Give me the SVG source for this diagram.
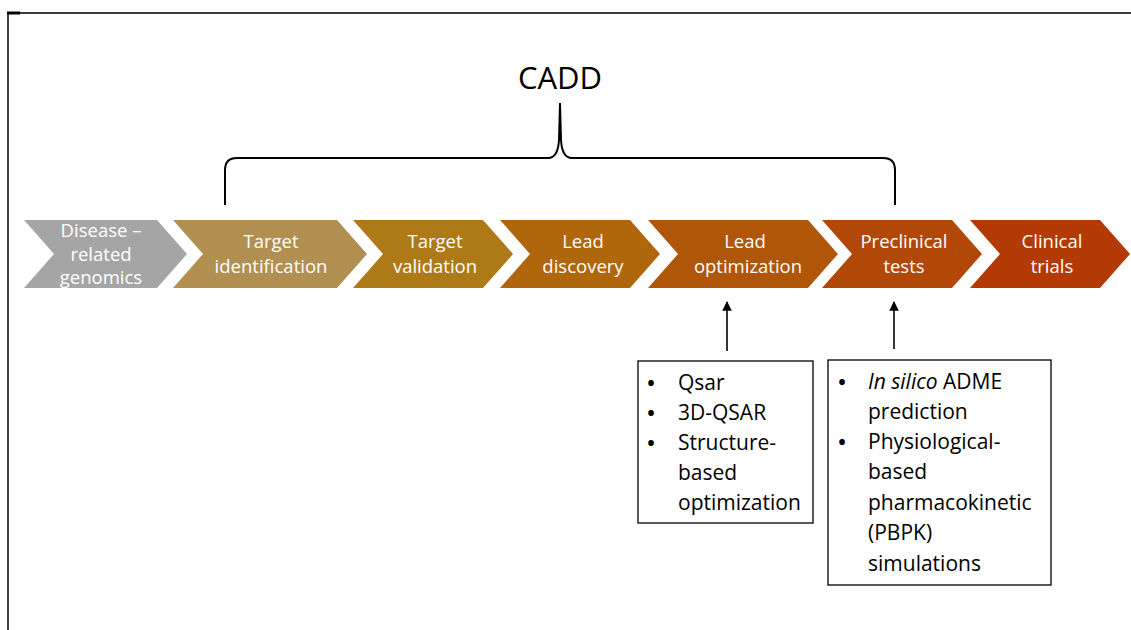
<svg xmlns="http://www.w3.org/2000/svg" width="1131" height="630" viewBox="0 0 1131 630">
  <defs>
    <style>
      .frame { stroke: #000; stroke-width: 1.5; fill: none; }
      .chev-text { font-family: "Open Sans", "Liberation Sans", sans-serif; font-size: 18.5px; fill: #fff; text-anchor: middle; }
      .title { font-family: "Open Sans", "Liberation Sans", sans-serif; font-size: 31px; fill: #000; text-anchor: middle; }
      .brace { stroke: #000; stroke-width: 2; fill: none; }
      .box { stroke: #000; stroke-width: 1.3; fill: #fff; }
      .box-text { font-family: "Open Sans", "Liberation Sans", sans-serif; font-size: 21px; fill: #000; }
      .bullet { font-family: "Open Sans", "Liberation Sans", sans-serif; font-size: 20px; font-weight: bold; fill: #000; text-anchor: middle; }
      .arrow { stroke: #000; stroke-width: 1.6; fill: none; marker-end: url(#head); }
    </style>
    <marker id="head" viewBox="0 0 10 10" refX="9" refY="5" markerWidth="6" markerHeight="6" orient="auto" markerUnits="strokeWidth">
      <path d="M0,0 L10,5 L0,10 Z" fill="#000"/>
    </marker>
  </defs>

  <rect width="1131" height="630" fill="#fff"/>

  <!-- page frame -->
  <path class="frame" d="M8,630 V13 H1131"/>
  <line x1="7" y1="13" x2="20" y2="13" stroke="#000" stroke-width="3"/>

  <!-- title and brace -->
  <text id="cadd" class="title" x="560" y="89">CADD</text>
  <path id="brace" class="brace" d="M225,205 V170 Q225,158 237,158 H548 Q558,158 559,140 L560,103 L561,140 Q562,158 572,158 H883 Q895,158 895,170 V205"/>

  <!-- pipeline chevrons -->
  <g id="step-genomics">
    <polygon points="24,220 157,220 187,254 157,288 24,288 54,254" fill="#A5A5A5"/>
    <text class="chev-text" x="101" y="237">Disease –</text>
    <text class="chev-text" x="101" y="261">related</text>
    <text class="chev-text" x="101" y="284">genomics</text>
  </g>
  <g id="step-target-identification">
    <polygon points="173,220 337,220 367,254 337,288 173,288 203,254" fill="#B08F50"/>
    <text class="chev-text" x="271" y="248">Target</text>
    <text class="chev-text" x="271" y="273">identification</text>
  </g>
  <g id="step-target-validation">
    <polygon points="353,220 483,220 513,254 483,288 353,288 383,254" fill="#AE7A17"/>
    <text class="chev-text" x="435" y="248">Target</text>
    <text class="chev-text" x="435" y="273">validation</text>
  </g>
  <g id="step-lead-discovery">
    <polygon points="500,220 630,220 660,254 630,288 500,288 530,254" fill="#B0660A"/>
    <text class="chev-text" x="583" y="248">Lead</text>
    <text class="chev-text" x="583" y="273">discovery</text>
  </g>
  <g id="step-lead-optimization">
    <polygon points="648,220 808,220 838,254 808,288 648,288 678,254" fill="#B05608"/>
    <text class="chev-text" x="745" y="248">Lead</text>
    <text class="chev-text" x="748" y="273">optimization</text>
  </g>
  <g id="step-preclinical">
    <polygon points="822,220 952,220 982,254 952,288 822,288 852,254" fill="#B24808"/>
    <text class="chev-text" x="904" y="248">Preclinical</text>
    <text class="chev-text" x="904" y="273">tests</text>
  </g>
  <g id="step-clinical">
    <polygon points="970,220 1100,220 1130,254 1100,288 970,288 1000,254" fill="#B33A05"/>
    <text class="chev-text" x="1052" y="248">Clinical</text>
    <text class="chev-text" x="1052" y="273">trials</text>
  </g>

  <!-- connectors -->
  <g id="connectors">
    <line class="arrow" x1="727" y1="351" x2="727" y2="302"/>
    <line class="arrow" x1="894" y1="349" x2="894" y2="302"/>
  </g>

  <!-- method boxes -->
  <g id="box-optimization-methods">
    <rect class="box" x="638" y="361" width="175" height="162"/>
    <text class="bullet" x="651" y="390">•</text>
    <text class="box-text" x="678" y="390">Qsar</text>
    <text class="bullet" x="651" y="420">•</text>
    <text class="box-text" x="678" y="420">3D-QSAR</text>
    <text class="bullet" x="651" y="450">•</text>
    <text class="box-text" x="678" y="450">Structure-</text>
    <text class="box-text" x="678" y="480">based</text>
    <text class="box-text" x="678" y="510">optimization</text>
  </g>
  <g id="box-preclinical-methods">
    <rect class="box" x="828" y="360" width="223" height="225"/>
    <text class="bullet" x="842" y="389">•</text>
    <text class="box-text" x="868" y="389"><tspan font-style="italic">In silico</tspan> ADME</text>
    <text class="box-text" x="868" y="419">prediction</text>
    <text class="bullet" x="842" y="449">•</text>
    <text class="box-text" x="868" y="449">Physiological-</text>
    <text class="box-text" x="868" y="479">based</text>
    <text class="box-text" x="868" y="510">pharmacokinetic</text>
    <text class="box-text" x="868" y="540">(PBPK)</text>
    <text class="box-text" x="868" y="571">simulations</text>
  </g>
</svg>
